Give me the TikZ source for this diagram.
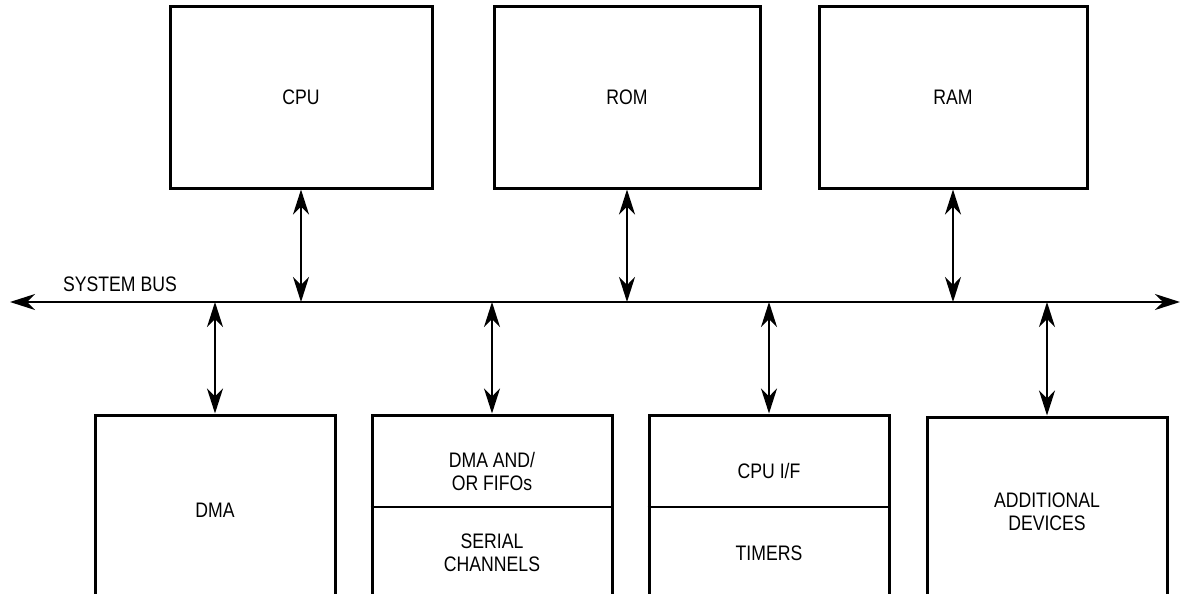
\documentclass[tikz,border=0pt]{standalone}
\usepackage{fontspec}
\newfontfamily\diagfont{Liberation Sans}[FakeStretch=0.84]
\usetikzlibrary{arrows.meta,positioning}

\begin{document}
\begin{tikzpicture}[
x=1pt,y=-1pt,
font=\diagfont\fontsize{21}{23}\selectfont,
unit/.style={draw,line width=3pt,minimum width=240pt,minimum height=190pt,inner sep=0pt,align=center},
mem/.style={draw,line width=3pt,minimum height=181pt,inner sep=0pt},
split/.style={line width=1.1pt},
txt/.style={align=center,inner sep=0pt},
link/.style={{Stealth[length=25pt,width=16pt,inset=8pt]}-{Stealth[length=25pt,width=16pt,inset=8pt]},line width=1.6pt},
]
    \useasboundingbox (0,0) rectangle (1180,594);
    \clip (0,0) rectangle (1180,594);

    % Memory side
    \node[mem,minimum width=262pt] (cpu) at (301,97.5) {CPU};
    \node[mem,minimum width=266pt] (rom) at (627,97.5) {ROM};
    \node[mem,minimum width=268pt] (ram) at (953,97.5) {RAM};

    % System bus
    \coordinate (busL) at (10,302);
    \coordinate (busR) at (1180,302);
    \coordinate (splitline) at (0,507);
    \draw[link] (busL) -- (busR);
    \node[txt] (buslabel) at (120,284.5) {SYSTEM BUS};

    % Peripherals
    \node[unit] (dma) at (215,510) {DMA};
    \node[unit] (fifo) at (492,510) {};
    \node[unit] (cpuif) at (769,510) {};
    \node[unit] (extra) at (1047,512) {ADDITIONAL\\DEVICES};

    \draw[split] (fifo.west |- splitline) -- (fifo.east |- splitline);
    \draw[split] (cpuif.west |- splitline) -- (cpuif.east |- splitline);
    \node[txt] (fifotop) at (492,471) {DMA AND/\\OR FIFOs};
    \node[txt] (fifobot) at (492,553) {SERIAL\\CHANNELS};
    \node[txt] (cpuiftop) at (769,471) {CPU I/F};
    \node[txt] (cpuifbot) at (769,553) {TIMERS};

    % Bus connections
    \draw[link] (cpu.south) -- (cpu.south |- busL);
    \draw[link] (rom.south) -- (rom.south |- busL);
    \draw[link] (ram.south) -- (ram.south |- busL);
    \draw[link] (dma.north |- busL) -- (dma.north);
    \draw[link] (fifo.north |- busL) -- (fifo.north);
    \draw[link] (cpuif.north |- busL) -- (cpuif.north);
    \draw[link] (extra.north |- busL) -- (extra.north);

\end{tikzpicture}
\end{document}
